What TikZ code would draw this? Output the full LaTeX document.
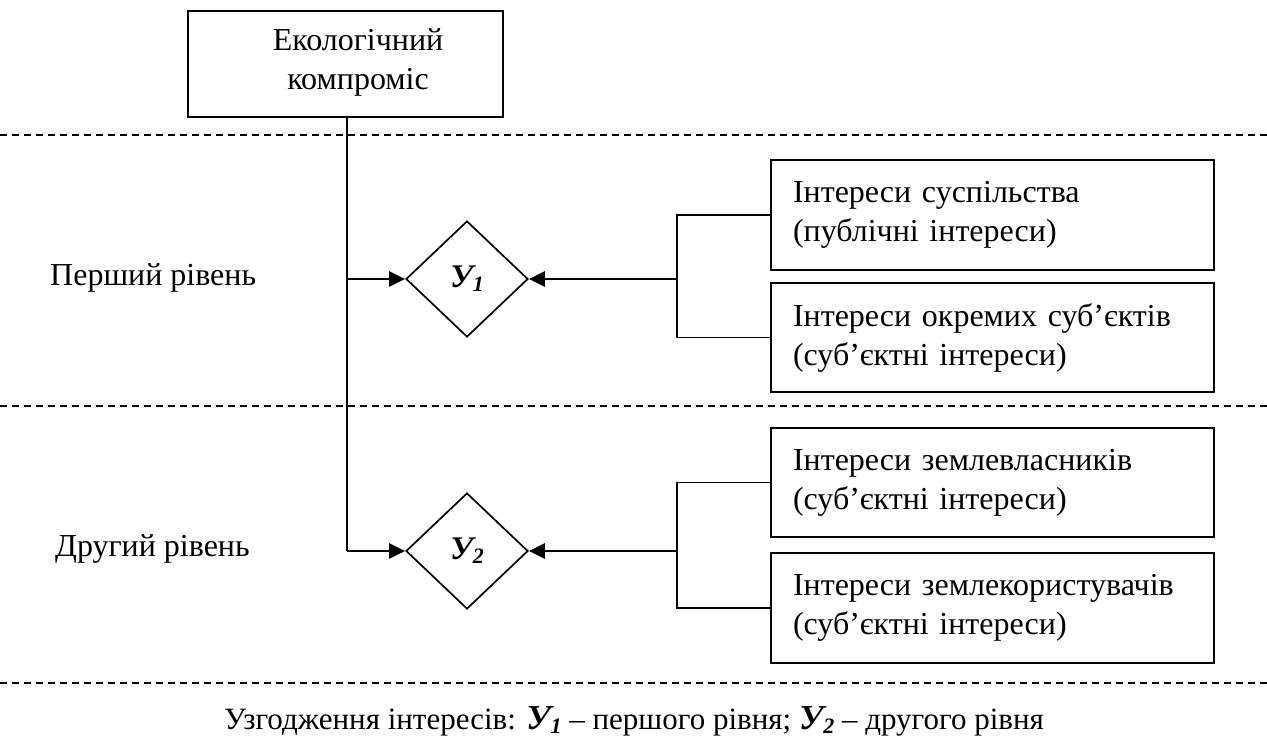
\documentclass[tikz,border=0pt]{standalone}
\usepackage{fontspec}
\setmainfont{Liberation Serif}
\usetikzlibrary{shapes.geometric,arrows.meta}

% bold italic "У" with a lowered index
\newcommand{\levelmark}[2][33]{{\fontsize{#1}{#1}\selectfont\bfseries\itshape У\raisebox{-4pt}{\fontsize{22}{22}\selectfont #2}}}

\begin{document}
\begin{tikzpicture}[x=1pt,y=-1pt,
  every node/.style={font=\fontsize{32}{39}\selectfont},
  topbox/.style={draw, line width=1.7pt, minimum width=315pt, minimum height=106pt, inner sep=0pt},
  intbox/.style={draw, line width=1.7pt, minimum width=443pt, inner xsep=22pt, inner ysep=0pt,
                 text width=399pt, align=left},
  decision/.style={diamond, draw, line width=1.7pt, minimum width=122pt, minimum height=116pt,
                   inner sep=0pt},
  link/.style={line width=1.7pt},
  feed/.style={line width=2.7pt, -{Triangle[length=16pt,width=15pt]}},
  levelsep/.style={line width=1.4pt, dash pattern=on 7pt off 5pt}
]
\useasboundingbox (0,0) rectangle (1267,745);

% top block
\node[topbox] (eco) at (345.5,64) {};
\node[align=center] (ecotext) at (358,62) {Екологічний\\компроміс};

% level separators
\coordinate (s1a) at (0,135);    \coordinate (s1b) at (1267,135);
\coordinate (s2a) at (0,406);    \coordinate (s2b) at (1267,406);
\coordinate (s3a) at (0,683);    \coordinate (s3b) at (1267,683);
\draw[levelsep] (s1a) -- (s1b);
\draw[levelsep] (s2a) -- (s2b);
\draw[levelsep] (s3a) -- (s3b);

% level labels
\node[anchor=base west, inner sep=0pt] (lvl1) at (50,285) {Перший рівень};
\node[anchor=base west, inner sep=0pt] (lvl2) at (55,556) {Другий рівень};

% decision diamonds
\node[decision] (d1) at (467,279) {\levelmark{1}};
\node[decision] (d2) at (467,551) {\levelmark{2}};

% interest blocks
\node[intbox, minimum height=110pt] (b1) at (992.5,215) {Інтереси суспільства\\(публічні інтереси)};
\node[intbox, minimum height=109pt] (b2) at (992.5,337.5) {Інтереси окремих суб’єктів\\(суб’єктні інтереси)};
\node[intbox, minimum height=109pt] (b3) at (992.5,482.5) {Інтереси землевласників\\(суб’єктні інтереси)};
\node[intbox, minimum height=110pt] (b4) at (992.5,608) {Інтереси землекористувачів\\(суб’єктні інтереси)};

% trunk from the top block down to both levels
\coordinate (tj1) at (347,279);
\coordinate (tj2) at (347,551);
\draw[link] (eco.south -| tj1) -- (tj2);
\draw[feed] (tj1) -- (d1.west);
\draw[feed] (tj2) -- (d2.west);

% brackets joining the interests of each level
\coordinate (j1) at (677,279);
\coordinate (j2) at (677,551);
\draw[link] (b1.west) -| (j1) |- (b2.west);
\draw[link] (b3.west) -| (j2) |- (b4.west);
\draw[feed] (j1) -- (d1.east);
\draw[feed] (j2) -- (d2.east);

% caption
\node[anchor=base, inner sep=0pt, font=\fontsize{31}{37}\selectfont] (caption) at (634,729)
  {Узгодження інтересів: \levelmark[35]{1} – першого рівня; \levelmark[35]{2} – другого рівня};
\end{tikzpicture}
\end{document}
